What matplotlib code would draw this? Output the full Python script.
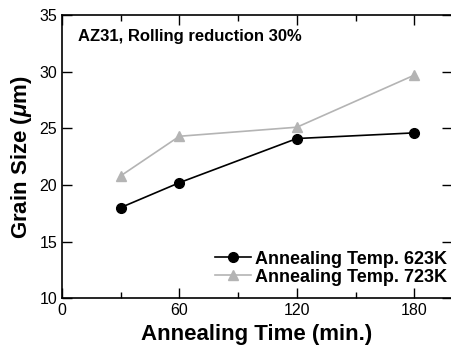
import numpy as np
from matplotlib import pyplot as plt

plt.rcParams['font.family'] = ['Liberation Sans', 'DejaVu Sans']
plt.rcParams['mathtext.fontset'] = 'custom'
plt.rcParams['mathtext.it'] = 'Liberation Sans:italic:bold'

time = [30, 60, 120, 180]
size_623 = [18.0, 20.2, 24.1, 24.6]
size_723 = [20.8, 24.3, 25.1, 29.7]

fig = plt.figure(figsize=(4.52, 3.52), dpi=100)
ax = fig.add_axes([0.137, 0.153, 0.862, 0.804])

ax.plot(time, size_623, color='black', marker='o', markersize=7, lw=1.2,
        label='Annealing Temp. 623K')
ax.plot(time, size_723, color='#b4b4b4', marker='^', markersize=7, lw=1.2,
        label='Annealing Temp. 723K')

ax.set_xlim(0, 199)
ax.set_ylim(10, 35)
ax.set_xticks([0, 60, 120, 180])
ax.set_xticks([30, 90, 150], minor=True)
ax.set_yticks([10, 15, 20, 25, 30, 35])
ax.tick_params(which='both', direction='in', top=True, right=True,
               labelsize=11.5, width=1)
ax.tick_params(which='major', length=7)
ax.tick_params(which='minor', length=4)
for s in ax.spines.values():
    s.set_linewidth(1.2)

ax.set_xlabel('Annealing Time (min.)', fontsize=16, fontweight='bold', labelpad=4)
ax.set_ylabel(r'Grain Size ($\mu$m)', fontsize=16, fontweight='bold', labelpad=4)

ax.text(0.04, 0.91, 'AZ31, Rolling reduction 30%', transform=ax.transAxes,
        fontsize=12, fontweight='bold')

ax.legend(loc='lower right', frameon=False, prop={'size': 13, 'weight': 'bold'},
          handlelength=2.0, handletextpad=0.2, labelspacing=0.05,
          borderaxespad=0.3, bbox_to_anchor=(1.02, 0.0))

fig.savefig('out.png', dpi=100)
